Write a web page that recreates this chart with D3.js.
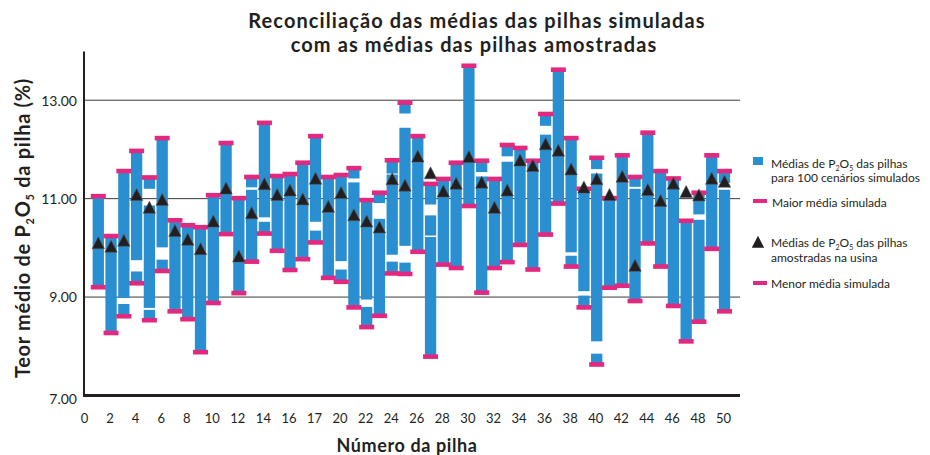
<!DOCTYPE html>
<meta charset="utf-8">
<head>
    <style>
        body, html {
            margin: 0;
            background: white;
            font-family: Lato, "Open Sans", sans-serif;
        }
        .tick text { fill: #231f20; }
        .title { font-weight: 700; font-size: 20px; letter-spacing: 1.1px; fill: #231f20; text-anchor: middle; }
        .axis-title { font-weight: 700; fill: #231f20; }
        .legend text { font-size: 12px; fill: #231f20; }
    </style>
    <script src="https://cdn.jsdelivr.net/npm/d3@7"></script>
</head>
<body>
<div id="chart"></div>
<script>
    // valores (pilhas 1..50)
    var piles = d3.range(1, 51);
    var maxMean = [11.05, 10.24, 11.56, 11.97, 11.43, 12.23, 10.56, 10.46, 10.42, 11.07,
        12.13, 11.01, 11.44, 12.54, 11.46, 11.50, 11.73, 12.27, 11.44, 11.48,
        11.62, 10.97, 11.12, 11.78, 12.95, 12.27, 11.30, 11.40, 11.73, 13.70,
        11.77, 11.40, 12.09, 12.03, 11.77, 12.72, 13.62, 12.23, 11.20, 11.83,
        11.01, 11.88, 11.44, 12.34, 11.56, 11.41, 10.55, 11.12, 11.88, 11.56];
    var minMean = [9.20, 8.27, 8.61, 9.28, 8.53, 9.53, 8.71, 8.55, 7.88, 8.88,
        10.28, 9.08, 9.72, 10.29, 9.94, 9.55, 9.77, 10.11, 9.39, 9.31,
        8.79, 8.39, 8.62, 9.48, 9.47, 9.92, 7.79, 9.66, 9.59, 10.85,
        9.09, 9.59, 9.71, 10.06, 9.56, 10.27, 10.90, 9.62, 8.79, 7.63,
        9.19, 9.23, 8.92, 10.09, 9.62, 8.82, 8.10, 8.50, 9.98, 8.71];
    var sampledMean = [10.10, 10.03, 10.15, 11.08, 10.82, 10.98, 10.35, 10.17, 9.98, 10.54,
        11.21, 9.83, 10.71, 11.30, 11.08, 11.17, 10.99, 11.41, 10.84, 11.12,
        10.67, 10.54, 10.42, 11.40, 11.27, 11.86, 11.52, 11.15, 11.31, 11.85,
        11.33, 10.82, 11.17, 11.78, 11.67, 12.11, 11.98, 11.60, 11.23, 11.40,
        11.08, 11.45, 9.64, 11.18, 10.96, 11.31, 11.14, 11.07, 11.41, 11.35];
    // intervalos sem cenarios simulados: [pilha, de, ate]
    var gaps = [[3, 8.98, 8.86], [4, 9.75, 9.52], [5, 11.20, 10.86], [5, 8.78, 8.74],
        [6, 10.01, 9.76], [13, 11.23, 11.18], [14, 10.62, 10.53], [18, 10.53, 10.35],
        [20, 9.73, 9.56], [21, 11.41, 11.33], [22, 8.95, 8.80], [23, 10.91, 10.59],
        [24, 11.51, 11.49], [24, 9.86, 9.72], [25, 12.73, 12.44], [25, 10.04, 9.70],
        [27, 10.88, 10.66], [27, 10.25, 10.22], [31, 11.54, 11.45], [33, 11.86, 11.75],
        [36, 12.48, 12.30], [38, 9.91, 9.84], [39, 9.12, 9.03], [40, 11.60, 11.51],
        [40, 8.10, 7.85], [43, 11.24, 11.20], [48, 10.68, 10.57], [50, 11.32, 11.18]];
    var xTickValues = d3.range(0, 51, 2);
    var xTickLabels = ["0", "2", "4", "6", "8", "10", "12", "14", "16", "17", "20", "22", "24",
        "26", "28", "30", "32", "34", "36", "38", "40", "42", "44", "46", "48", "50"];
    var yTicks = [7, 9, 11, 13];

    var blue = "#2a8fd0", pink = "#e3287f", dark = "#231f20";
    var width = 930, height = 455;

    var svg = d3.select("#chart").append("svg")
        .attr("width", width)
        .attr("height", height);

    var x = d3.scaleLinear().domain([0, 50]).range([85.5, 724.5]);
    var y = d3.scaleLinear().domain([7, 14]).range([395.5, 51]);
    var barW = 11.3, markW = 15, markH = 4.6;

    // titulo
    svg.append("text").attr("class", "title").attr("x", 477).attr("y", 27.5)
        .text("Reconciliação das médias das pilhas simuladas");
    svg.append("text").attr("class", "title").attr("x", 474).attr("y", 51.5)
        .text("com as médias das pilhas amostradas");

    // grade
    svg.append("g").selectAll("line")
        .data(yTicks.filter(function(d){return d > 7}))
        .enter().append("line")
        .attr("x1", 84).attr("x2", 740)
        .attr("y1", function(d){return y(d)}).attr("y2", function(d){return y(d)})
        .attr("stroke", "#3a3a3a").attr("stroke-width", 1);

    // barras: segmentos entre max e min, sem as lacunas
    var segments = [];
    piles.forEach(function(p, i) {
        var cur = maxMean[i];
        gaps.filter(function(g){return g[0] === p})
            .sort(function(a, b){return b[1] - a[1]})
            .forEach(function(g) {
                segments.push({pile: p, hi: cur, lo: g[1]});
                cur = g[2];
            });
        segments.push({pile: p, hi: cur, lo: minMean[i]});
    });

    svg.append("g").selectAll("rect")
        .data(segments)
        .enter().append("rect")
        .attr("x", function(d){return x(d.pile) - barW / 2})
        .attr("width", barW)
        .attr("y", function(d){return y(d.hi)})
        .attr("height", function(d){return y(d.lo) - y(d.hi)})
        .attr("fill", blue);

    // marcadores de maior e menor media
    var marks = svg.append("g");
    [maxMean, minMean].forEach(function(arr) {
        marks.selectAll(null)
            .data(piles)
            .enter().append("rect")
            .attr("x", function(p){return x(p) - markW / 2})
            .attr("y", function(p, i){return y(arr[i]) - markH / 2})
            .attr("width", markW)
            .attr("height", markH)
            .attr("fill", pink);
    });

    // medias amostradas
    function triangle(cx, cy) {
        return "M" + (cx - 6.2) + "," + (cy + 5.8) + "L" + (cx + 6.2) + "," + (cy + 5.8) +
            "L" + cx + "," + (cy - 6.2) + "Z";
    }
    svg.append("g").selectAll("path")
        .data(piles)
        .enter().append("path")
        .attr("d", function(p, i){return triangle(x(p), y(sampledMean[i]))})
        .attr("fill", dark)
        .attr("stroke", "#555")
        .attr("stroke-width", 0.6);

    // eixos
    svg.append("line").attr("x1", 84).attr("x2", 84).attr("y1", 51.5).attr("y2", y(7) + 1)
        .attr("stroke", dark).attr("stroke-width", 2);
    svg.append("line").attr("x1", 83).attr("x2", 740).attr("y1", y(7)).attr("y2", y(7))
        .attr("stroke", dark).attr("stroke-width", 3);

    var yAxis = svg.append("g")
        .attr("transform", "translate(77,0)")
        .call(d3.axisLeft(y).tickValues(yTicks).tickSize(0).tickFormat(d3.format(".2f")));
    yAxis.select(".domain").remove();
    yAxis.selectAll("text").attr("font-size", 14).attr("font-family", "Lato").attr("x", 0)
        .attr("dy", function(d){return d === 7 ? "0.6em" : "0.35em"});

    var xAxis = svg.append("g")
        .attr("transform", "translate(-1.5,411)")
        .call(d3.axisBottom(x).tickValues(xTickValues).tickSize(0)
            .tickFormat(function(d, i){return xTickLabels[i]}));
    xAxis.select(".domain").remove();
    xAxis.selectAll("text").attr("font-size", 13).attr("font-family", "Lato");

    // titulos dos eixos
    svg.append("text").attr("class", "axis-title")
        .attr("x", 407).attr("y", 452).attr("text-anchor", "middle")
        .attr("font-size", 18).attr("letter-spacing", 0.6).text("Número da pilha");

    var yt = svg.append("text").attr("class", "axis-title")
        .attr("transform", "translate(30,228) rotate(-90)")
        .attr("text-anchor", "middle").attr("font-size", 20).attr("letter-spacing", 0.7);
    yt.append("tspan").text("Teor médio de P");
    yt.append("tspan").attr("font-size", 11).attr("dy", 4).text("2");
    yt.append("tspan").attr("dy", -4).text("O");
    yt.append("tspan").attr("font-size", 11).attr("dy", 4).text("5");
    yt.append("tspan").attr("dy", -4).text(" da pilha (%)");

    // legenda
    var legend = svg.append("g").attr("class", "legend");
    legend.append("rect").attr("x", 753).attr("y", 157).attr("width", 10).attr("height", 8)
        .attr("fill", blue);
    legend.append("rect").attr("x", 753).attr("y", 199).attr("width", 14).attr("height", 4)
        .attr("fill", pink);
    legend.append("path").attr("d", triangle(758, 242)).attr("fill", dark);
    legend.append("rect").attr("x", 753).attr("y", 281).attr("width", 14).attr("height", 4)
        .attr("fill", pink);

    function p2o5Line(yPos, before, after) {
        var t = legend.append("text").attr("x", 771).attr("y", yPos);
        t.append("tspan").text(before + "P");
        t.append("tspan").attr("font-size", 7).attr("dy", 2.5).text("2");
        t.append("tspan").attr("dy", -2.5).text("O");
        t.append("tspan").attr("font-size", 7).attr("dy", 2.5).text("5");
        t.append("tspan").attr("dy", -2.5).text(after);
    }
    p2o5Line(168, "Médias de ", " das pilhas");
    legend.append("text").attr("x", 771).attr("y", 182).text("para 100 cenários simulados");
    legend.append("text").attr("x", 772).attr("y", 207).text("Maior média simulada");
    p2o5Line(247, "Médias de ", " das pilhas");
    legend.append("text").attr("x", 771).attr("y", 262).text("amostradas na usina");
    legend.append("text").attr("x", 771).attr("y", 288).text("Menor média simulada");
</script>
</body>
